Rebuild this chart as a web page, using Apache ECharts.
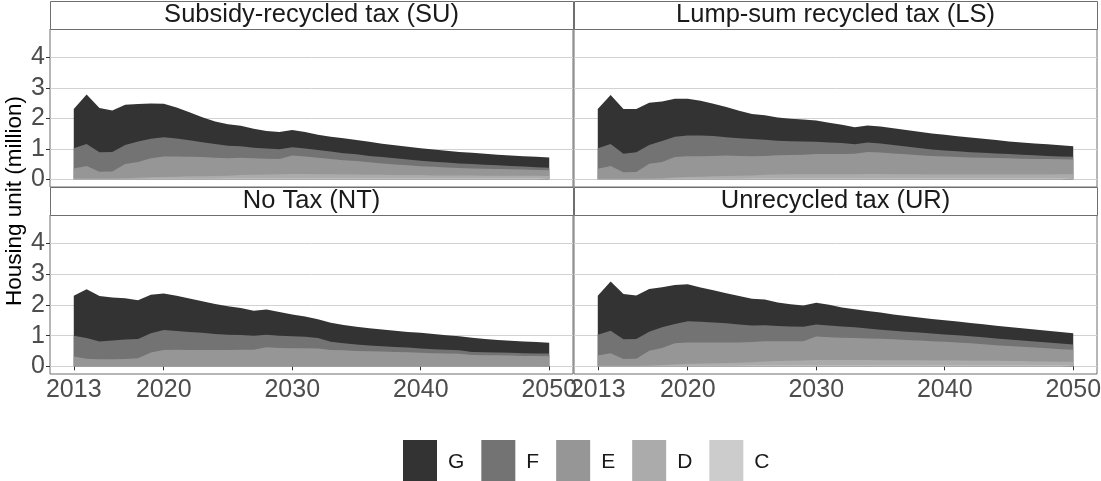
<!DOCTYPE html>
<html>
<head>
<meta charset="utf-8">
<script src="https://cdn.jsdelivr.net/npm/echarts@6/dist/echarts.min.js"></script>
<style>
  html, body { margin: 0; padding: 0; background: #fff; }
  #chart { width: 1101px; height: 481px; }
</style>
</head>
<body>
<div id="chart"></div>
<script>
// years on the x axis
const years = [2013, 2014, 2015, 2016, 2017, 2018, 2019, 2020, 2021, 2022,
  2023, 2024, 2025, 2026, 2027, 2028, 2029, 2030, 2031, 2032,
  2033, 2034, 2035, 2036, 2037, 2038, 2039, 2040, 2041, 2042,
  2043, 2044, 2045, 2046, 2047, 2048, 2049, 2050];

const bands = ['G', 'F', 'E', 'D', 'C'];
const xTicks = [2013, 2020, 2030, 2040, 2050];
const yTicks = [0, 1, 2, 3, 4];

// upper edge of each band (cumulative, million units)
// Subsidy-recycled tax (SU)
const suG = [2.31, 2.78, 2.34, 2.26, 2.45, 2.47, 2.49, 2.48, 2.36, 2.20, 2.04, 1.90, 1.81, 1.76, 1.66, 1.59, 1.55, 1.62, 1.55, 1.46, 1.40, 1.35, 1.29, 1.23, 1.17, 1.12, 1.07, 1.02, 0.98, 0.94, 0.90, 0.87, 0.84, 0.81, 0.78, 0.76, 0.74, 0.72];
const suF = [1.02, 1.16, 0.89, 0.90, 1.13, 1.24, 1.33, 1.38, 1.34, 1.28, 1.22, 1.16, 1.10, 1.09, 1.04, 1.01, 0.99, 1.05, 1.01, 0.96, 0.91, 0.86, 0.82, 0.77, 0.73, 0.69, 0.65, 0.61, 0.58, 0.55, 0.52, 0.50, 0.48, 0.46, 0.44, 0.42, 0.40, 0.38];
const suE = [0.36, 0.44, 0.25, 0.26, 0.50, 0.57, 0.69, 0.75, 0.75, 0.74, 0.73, 0.71, 0.69, 0.71, 0.69, 0.68, 0.67, 0.78, 0.75, 0.71, 0.67, 0.63, 0.60, 0.56, 0.52, 0.49, 0.46, 0.43, 0.41, 0.39, 0.37, 0.36, 0.35, 0.34, 0.33, 0.32, 0.31, 0.30];
const suD = [0.03, 0.03, 0.03, 0.03, 0.04, 0.05, 0.07, 0.08, 0.09, 0.10, 0.10, 0.11, 0.12, 0.14, 0.15, 0.16, 0.17, 0.18, 0.18, 0.17, 0.17, 0.16, 0.16, 0.15, 0.15, 0.14, 0.14, 0.14, 0.13, 0.13, 0.13, 0.13, 0.12, 0.12, 0.12, 0.12, 0.12, 0.11];
const suC = [0.01, 0.01, 0.01, 0.01, 0.01, 0.01, 0.02, 0.02, 0.02, 0.02, 0.02, 0.02, 0.03, 0.03, 0.03, 0.03, 0.03, 0.03, 0.03, 0.03, 0.03, 0.03, 0.03, 0.03, 0.03, 0.03, 0.03, 0.03, 0.03, 0.03, 0.03, 0.03, 0.03, 0.03, 0.03, 0.03, 0.03, 0.03];

// Lump-sum recycled tax (LS)
const lsG = [2.31, 2.77, 2.31, 2.31, 2.51, 2.55, 2.64, 2.64, 2.58, 2.48, 2.37, 2.25, 2.14, 2.10, 2.03, 1.99, 1.96, 1.93, 1.86, 1.79, 1.71, 1.77, 1.73, 1.68, 1.62, 1.56, 1.50, 1.46, 1.41, 1.37, 1.33, 1.29, 1.24, 1.21, 1.18, 1.15, 1.12, 1.09];
const lsF = [1.02, 1.16, 0.84, 0.89, 1.13, 1.26, 1.40, 1.44, 1.44, 1.42, 1.38, 1.35, 1.32, 1.30, 1.27, 1.25, 1.24, 1.23, 1.21, 1.19, 1.15, 1.21, 1.18, 1.13, 1.08, 1.03, 0.98, 0.95, 0.92, 0.89, 0.87, 0.85, 0.83, 0.81, 0.79, 0.77, 0.75, 0.74];
const lsE = [0.35, 0.44, 0.23, 0.24, 0.51, 0.57, 0.73, 0.76, 0.76, 0.77, 0.78, 0.77, 0.76, 0.77, 0.79, 0.80, 0.81, 0.83, 0.83, 0.83, 0.84, 0.90, 0.88, 0.85, 0.82, 0.79, 0.77, 0.75, 0.73, 0.72, 0.71, 0.70, 0.69, 0.68, 0.67, 0.67, 0.66, 0.65];
const lsD = [0.02, 0.02, 0.02, 0.02, 0.03, 0.04, 0.06, 0.08, 0.09, 0.10, 0.11, 0.12, 0.13, 0.15, 0.16, 0.17, 0.17, 0.17, 0.17, 0.17, 0.17, 0.18, 0.18, 0.17, 0.17, 0.17, 0.16, 0.16, 0.16, 0.16, 0.16, 0.16, 0.16, 0.16, 0.16, 0.16, 0.17, 0.17];
const lsC = [0.01, 0.01, 0.01, 0.01, 0.01, 0.01, 0.02, 0.02, 0.02, 0.02, 0.02, 0.02, 0.03, 0.03, 0.03, 0.03, 0.03, 0.03, 0.03, 0.03, 0.03, 0.03, 0.03, 0.03, 0.03, 0.03, 0.03, 0.03, 0.03, 0.03, 0.03, 0.03, 0.03, 0.03, 0.03, 0.03, 0.03, 0.03];

// No Tax (NT)
const ntG = [2.30, 2.51, 2.29, 2.24, 2.22, 2.15, 2.33, 2.37, 2.30, 2.21, 2.12, 2.03, 1.96, 1.90, 1.81, 1.85, 1.77, 1.69, 1.62, 1.53, 1.42, 1.35, 1.29, 1.24, 1.20, 1.16, 1.12, 1.09, 1.05, 1.01, 0.98, 0.93, 0.89, 0.86, 0.83, 0.81, 0.79, 0.77];
const ntF = [1.00, 0.92, 0.81, 0.84, 0.87, 0.89, 1.08, 1.18, 1.15, 1.12, 1.09, 1.05, 1.03, 1.02, 1.00, 1.03, 1.00, 0.98, 0.96, 0.92, 0.80, 0.75, 0.71, 0.68, 0.65, 0.63, 0.61, 0.58, 0.56, 0.54, 0.52, 0.47, 0.46, 0.45, 0.44, 0.43, 0.42, 0.42];
const ntE = [0.32, 0.25, 0.23, 0.23, 0.24, 0.26, 0.45, 0.53, 0.54, 0.53, 0.53, 0.53, 0.53, 0.54, 0.54, 0.62, 0.60, 0.59, 0.59, 0.58, 0.53, 0.52, 0.50, 0.49, 0.48, 0.47, 0.46, 0.44, 0.43, 0.42, 0.41, 0.37, 0.36, 0.36, 0.35, 0.34, 0.34, 0.33];
const ntD = [0.01, 0.01, 0.01, 0.01, 0.01, 0.01, 0.01, 0.01, 0.01, 0.01, 0.01, 0.01, 0.01, 0.01, 0.01, 0.01, 0.01, 0.01, 0.01, 0.01, 0.01, 0.01, 0.01, 0.01, 0.01, 0.01, 0.01, 0.01, 0.01, 0.01, 0.01, 0.01, 0.01, 0.01, 0.01, 0.01, 0.01, 0.01];
const ntC = [0, 0, 0, 0, 0, 0, 0, 0, 0, 0, 0, 0, 0, 0, 0, 0, 0, 0, 0, 0, 0, 0, 0, 0, 0, 0, 0, 0, 0, 0, 0, 0, 0, 0, 0, 0, 0, 0];

// Unrecycled tax (UR)
const urG = [2.30, 2.76, 2.36, 2.31, 2.52, 2.58, 2.65, 2.67, 2.57, 2.48, 2.38, 2.29, 2.20, 2.18, 2.08, 2.02, 1.98, 2.07, 2.01, 1.92, 1.86, 1.80, 1.75, 1.69, 1.64, 1.59, 1.54, 1.50, 1.46, 1.41, 1.37, 1.32, 1.28, 1.24, 1.20, 1.16, 1.12, 1.08];
const urF = [1.03, 1.16, 0.88, 0.89, 1.13, 1.27, 1.38, 1.47, 1.45, 1.43, 1.40, 1.36, 1.33, 1.34, 1.31, 1.30, 1.29, 1.36, 1.33, 1.30, 1.27, 1.23, 1.19, 1.16, 1.13, 1.10, 1.07, 1.04, 1.01, 0.98, 0.95, 0.91, 0.87, 0.84, 0.81, 0.78, 0.74, 0.71];
const urE = [0.35, 0.43, 0.24, 0.25, 0.51, 0.60, 0.75, 0.78, 0.78, 0.78, 0.78, 0.78, 0.79, 0.82, 0.82, 0.82, 0.82, 0.97, 0.95, 0.93, 0.92, 0.91, 0.90, 0.88, 0.86, 0.84, 0.82, 0.80, 0.78, 0.75, 0.72, 0.69, 0.66, 0.64, 0.61, 0.59, 0.56, 0.54];
const urD = [0.02, 0.02, 0.02, 0.02, 0.03, 0.04, 0.06, 0.08, 0.09, 0.10, 0.11, 0.12, 0.13, 0.16, 0.17, 0.18, 0.19, 0.21, 0.21, 0.21, 0.21, 0.21, 0.20, 0.20, 0.20, 0.20, 0.19, 0.19, 0.19, 0.18, 0.18, 0.18, 0.17, 0.17, 0.16, 0.16, 0.15, 0.15];
const urC = [0.01, 0.01, 0.01, 0.01, 0.01, 0.01, 0.02, 0.02, 0.02, 0.02, 0.02, 0.02, 0.03, 0.03, 0.03, 0.03, 0.03, 0.03, 0.03, 0.03, 0.03, 0.03, 0.03, 0.03, 0.03, 0.03, 0.03, 0.03, 0.03, 0.03, 0.03, 0.03, 0.03, 0.03, 0.03, 0.03, 0.03, 0.03];

const colors = { G: '#333333', F: '#737373', E: '#969696', D: '#ababab', C: '#cccccc' };
const font = '"Liberation Sans", Arial, sans-serif';

const panels = [
  { title: 'Subsidy-recycled tax (SU)', edges: { G: suG, F: suF, E: suE, D: suD, C: suC }, left: 50, top: 29, height: 158, first: true, bottom: false },
  { title: 'Lump-sum recycled tax (LS)', edges: { G: lsG, F: lsF, E: lsE, D: lsD, C: lsC }, left: 574, top: 29, height: 158, first: false, bottom: false },
  { title: 'No Tax (NT)', edges: { G: ntG, F: ntF, E: ntE, D: ntD, C: ntC }, left: 50, top: 215, height: 159, first: true, bottom: true },
  { title: 'Unrecycled tax (UR)', edges: { G: urG, F: urF, E: urE, D: urD, C: urC }, left: 574, top: 215, height: 159, first: false, bottom: true }
];
const panelWidth = 523;

const grid = [], xAxis = [], yAxis = [], series = [], graphic = [];

panels.forEach((p, i) => {
  grid.push({
    left: p.left, top: p.top, width: panelWidth, height: p.height,
    show: true, borderColor: '#6e6e6e', borderWidth: 1,
    outerBoundsMode: 'none', containLabel: false
  });
  xAxis.push({
    type: 'value', gridIndex: i, min: 2011.15, max: 2051.85,
    axisLine: { show: false },
    axisTick: { show: p.bottom, customValues: xTicks, length: 4, lineStyle: { color: '#333' } },
    axisLabel: {
      show: p.bottom, customValues: xTicks, formatter: v => String(v),
      fontSize: 25, color: '#4d4d4d', fontFamily: font, margin: 4
    },
    splitLine: { show: false }
  });
  yAxis.push({
    type: 'value', gridIndex: i, min: -0.25, max: 4.93,
    axisLine: { show: false },
    axisTick: { show: p.first, customValues: yTicks, length: 4, lineStyle: { color: '#333' } },
    axisLabel: {
      show: p.first, customValues: yTicks,
      fontSize: 25, color: '#4d4d4d', fontFamily: font, margin: 5
    },
    splitLine: { show: true, lineStyle: { color: '#d2d2d2', width: 1 } }
  });
  // each band is filled from 0 up to its upper edge; drawn top band first
  bands.forEach(b => {
    series.push({
      type: 'line', name: b, xAxisIndex: i, yAxisIndex: i,
      data: years.map((yr, j) => [yr, p.edges[b][j]]),
      symbol: 'none', showSymbol: false, silent: true,
      color: colors[b],
      itemStyle: { color: colors[b] },
      lineStyle: { width: 0, color: colors[b] },
      areaStyle: { color: colors[b], opacity: 1 }
    });
  });
  // facet strip
  graphic.push({
    type: 'rect', z: 10,
    shape: { x: p.left + 0.5, y: p.top - 28 + 0.5, width: panelWidth, height: 28 },
    style: { fill: '#ffffff', stroke: '#6e6e6e', lineWidth: 1 }
  });
  graphic.push({
    type: 'text', z: 11,
    x: p.left + panelWidth / 2, y: p.top - 14,
    style: {
      text: p.title, fill: '#1a1a1a', font: '25.5px ' + font,
      align: 'center', verticalAlign: 'middle'
    }
  });
});

graphic.push({
  type: 'text', z: 11, x: 15, y: 201, rotation: Math.PI / 2,
  style: {
    text: 'Housing unit (million)', fill: '#000', font: '22.5px ' + font,
    align: 'center', verticalAlign: 'middle'
  }
});

const chart = echarts.init(document.getElementById('chart'));
chart.setOption({
  animation: false,
  backgroundColor: '#ffffff',
  grid, xAxis, yAxis, series, graphic,
  legend: {
    data: bands, left: 398, top: 435, icon: 'rect',
    itemWidth: 34, itemHeight: 45, itemGap: 17, selectedMode: false,
    textStyle: { fontSize: 21, color: '#1a1a1a', fontFamily: font, padding: [0, 0, 0, 6] }
  }
});
</script>
</body>
</html>
